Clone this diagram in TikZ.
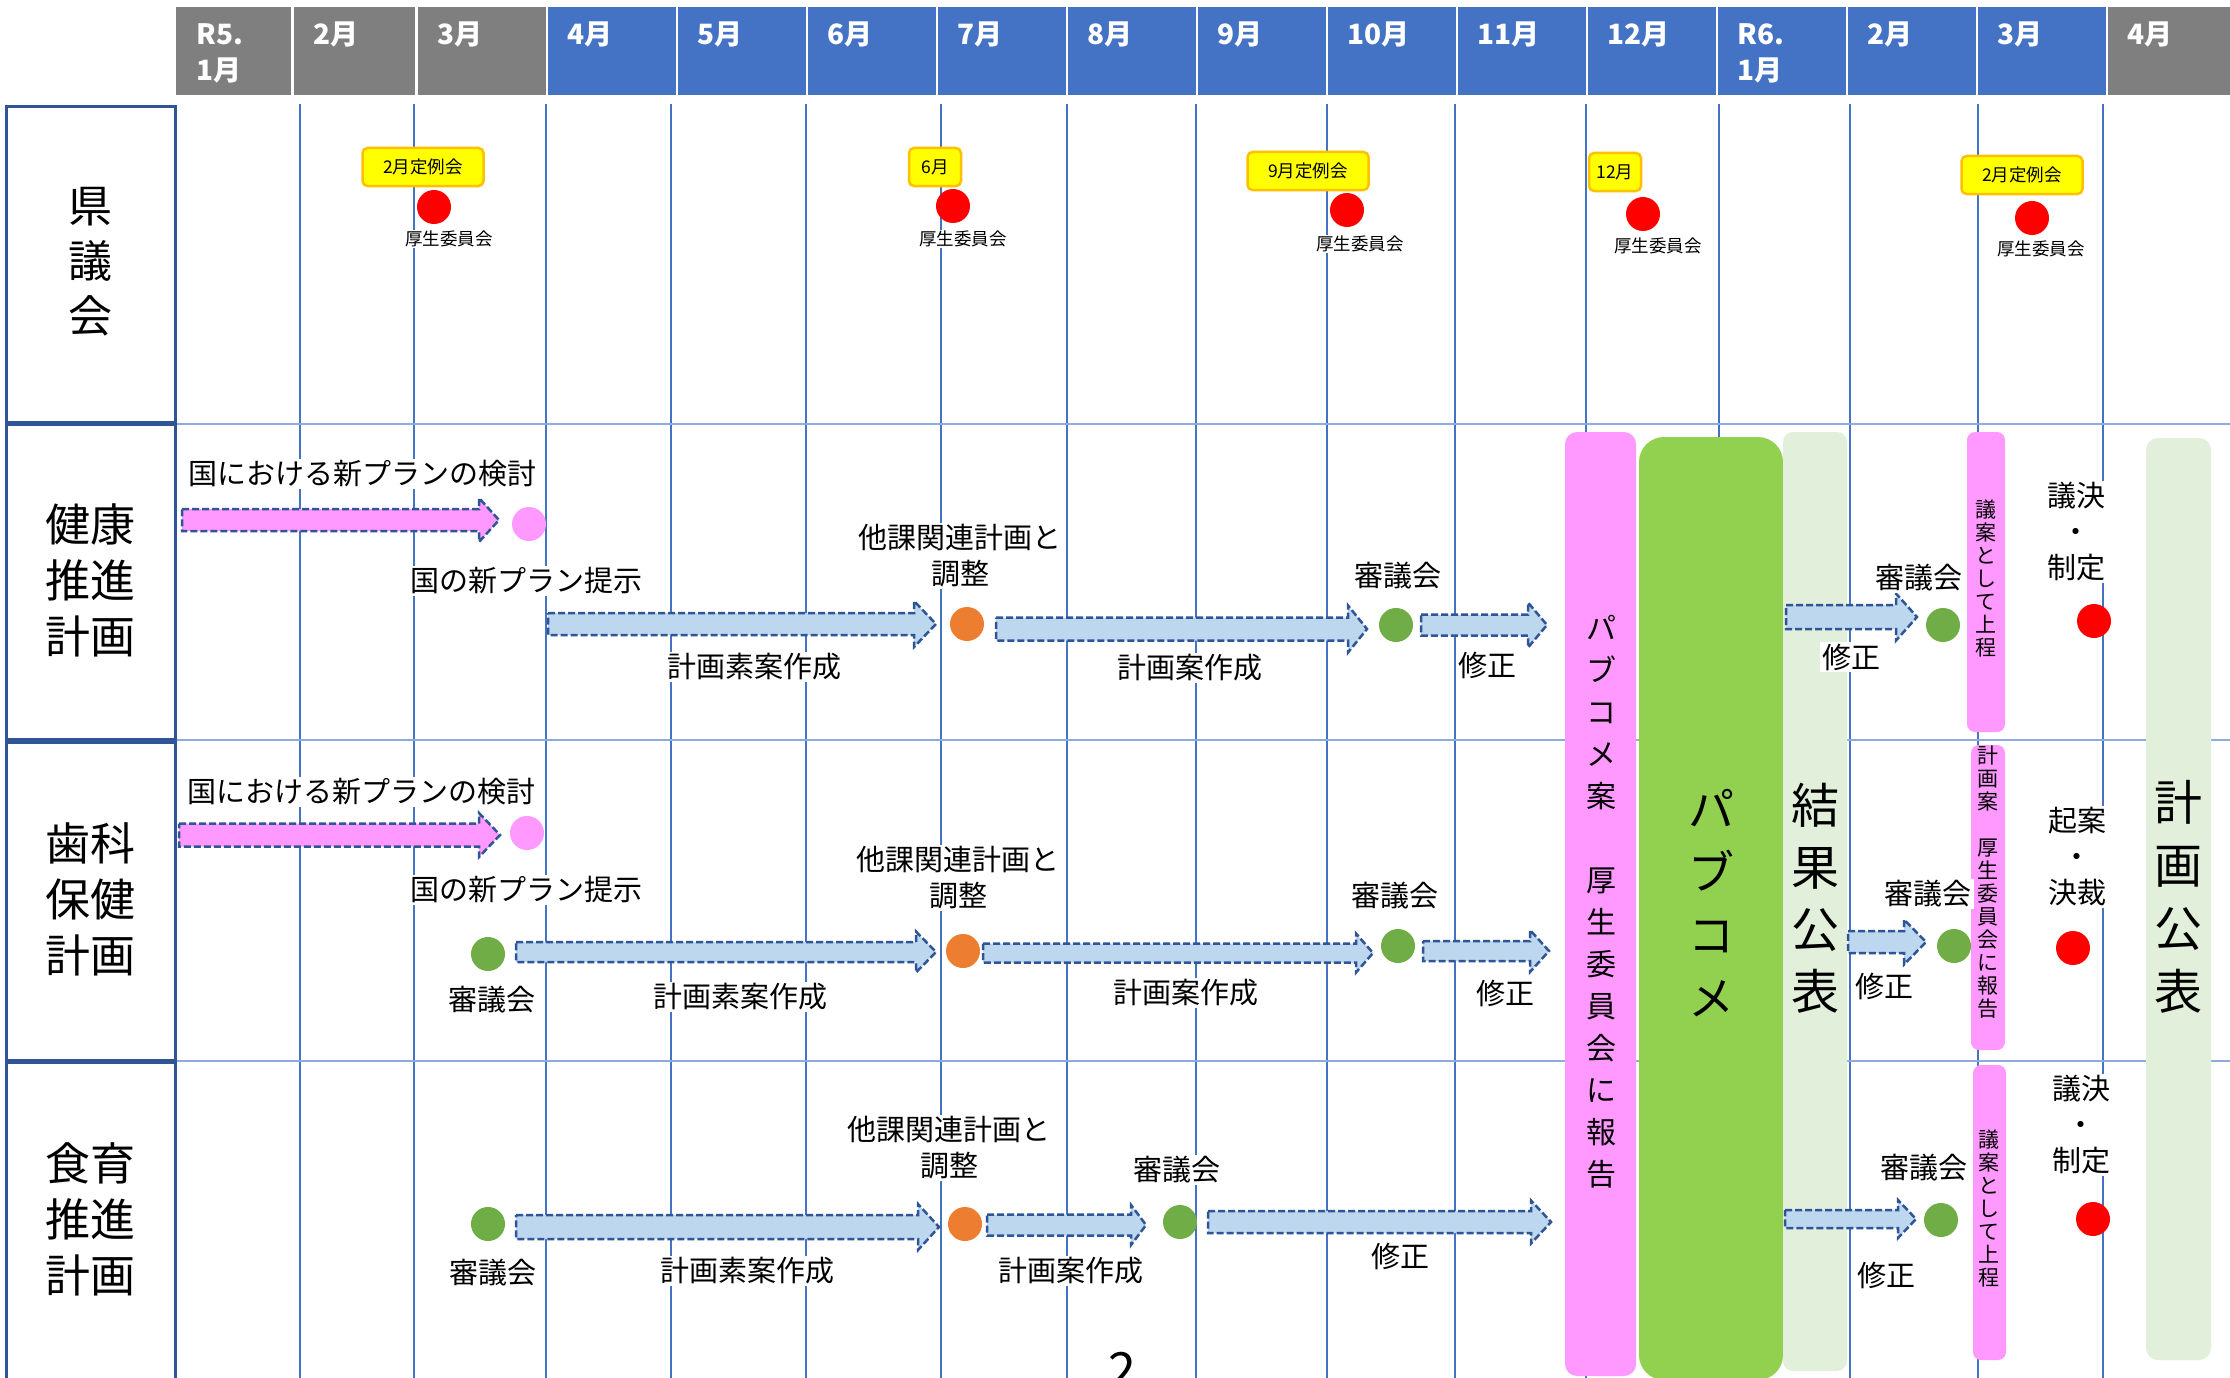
\documentclass[tikz,border=0pt]{standalone}
\usepackage{fontspec}
\setmainfont{Noto Sans CJK JP}
\definecolor{hdrgray}{HTML}{7F7F7F}
\definecolor{hdrblue}{HTML}{4472C4}
\definecolor{gridblue}{HTML}{4472C4}
\definecolor{seplight}{HTML}{8FAADC}
\definecolor{boxblue}{HTML}{2F5597}
\definecolor{arrowblue}{HTML}{BDD7EE}
\definecolor{pinkc}{HTML}{FF99FF}
\definecolor{greenbar}{HTML}{92D050}
\definecolor{lightgreen}{HTML}{E2EFDA}
\definecolor{dotgreen}{HTML}{70AD47}
\definecolor{dotorange}{HTML}{ED7D31}
\definecolor{yelc}{HTML}{FFFF00}
\definecolor{goldc}{HTML}{FFC000}
\newcommand\fsz[2]{\fontsize{#1pt}{#2pt}\selectfont}
\tikzset{
  vline/.style={draw=gridblue,line width=1.3pt},
  hsep/.style={draw=seplight,line width=2.5pt},
  hdrtext/.style={anchor=base west,text=white,font=\fsz{28}{36}\bfseries,inner sep=0pt},
  rowbox/.style={draw=boxblue,line width=3pt},
  rowlbl/.style={align=center,inner sep=0pt},
  lbl/.style={fill=white,inner sep=2pt,align=center,font=\fsz{29}{36}},
  smalllbl/.style={fill=white,inner sep=1pt,font=\fsz{17.5}{20}},
  ylabel/.style={draw=goldc,fill=yelc,line width=2.5pt,rounded corners=5pt,minimum height=38pt,inner sep=2pt,font=\fsz{17.5}{20}},
  dot/.style={circle,minimum size=34pt,inner sep=0pt},
  barrow/.style={draw=boxblue,line width=2.5pt,dash pattern=on 7pt off 3pt},
  vtext/.style={align=center,inner sep=0pt},
}
% x1 x2 yc shaft-half head-half head-length fill
\newcommand\blkarrow[7]{%
  \draw[barrow,fill=#7] (#1,#3-#4) -- (#2-#6,#3-#4) -- (#2-#6,#3-#5) -- (#2,#3)
    -- (#2-#6,#3+#5) -- (#2-#6,#3+#4) -- (#1,#3+#4) -- cycle;}
\begin{document}
\begin{tikzpicture}[x=1pt,y=-1pt]
\useasboundingbox (0,0) rectangle (2230,1378);
\clip (0,0) rectangle (2230,1378);
\fill[white] (0,0) rectangle (2230,1378);
% header
\foreach \a/\b/\c in {176/291/hdrgray,294/415/hdrgray,418/546/hdrgray,548/676/hdrblue,678/806/hdrblue,808/936/hdrblue,938/1066/hdrblue,1068/1196/hdrblue,1198/1326/hdrblue,1328/1456/hdrblue,1458/1586/hdrblue,1588/1716/hdrblue,1718/1846/hdrblue,1848/1976/hdrblue,1978/2106/hdrblue,2108/2232/hdrgray}
  \fill[\c] (\a,7) rectangle (\b,95);
\node[hdrtext] (h1a) at (196,45) {R5.};
\node[hdrtext] (h1b) at (196,81) {1月};
\node[hdrtext] (h2) at (313,45) {2月};
\node[hdrtext] (h3) at (437,45) {3月};
\node[hdrtext] (h4) at (567,45) {4月};
\node[hdrtext] (h5) at (697,45) {5月};
\node[hdrtext] (h6) at (827,45) {6月};
\node[hdrtext] (h7) at (957,45) {7月};
\node[hdrtext] (h8) at (1087,45) {8月};
\node[hdrtext] (h9) at (1217,45) {9月};
\node[hdrtext] (h10) at (1347,45) {10月};
\node[hdrtext] (h11) at (1477,45) {11月};
\node[hdrtext] (h12) at (1607,45) {12月};
\node[hdrtext] (h13a) at (1737,45) {R6.};
\node[hdrtext] (h13b) at (1737,81) {1月};
\node[hdrtext] (h14) at (1867,45) {2月};
\node[hdrtext] (h15) at (1997,45) {3月};
\node[hdrtext] (h16) at (2127,45) {4月};
% grid
\foreach \x in {300,414,546,671,806,941,1067,1196,1327,1455,1586,1719,1850,1978,2103}
  \draw[vline] (\x,104) -- (\x,1378);
\foreach \y in {424,740,1061}
  \draw[hsep] (176,\y) -- (2230,\y);
% row label boxes
\draw[rowbox] (6,107) rectangle (175,422);
\draw[rowbox] (6,424) rectangle (175,739);
\draw[rowbox] (6,742) rectangle (175,1060);
\draw[rowbox] (6,1062) rectangle (175,1382);
\node[rowlbl,font=\fsz{44}{55}] (r1) at (90,262) {県\\議\\会};
\node[rowlbl,font=\fsz{45}{56}] (r2) at (90,580) {健康\\推進\\計画};
\node[rowlbl,font=\fsz{45}{56}] (r3) at (90,899) {歯科\\保健\\計画};
\node[rowlbl,font=\fsz{45}{56}] (r4) at (90,1219) {食育\\推進\\計画};
% bars
\fill[pinkc,rounded corners=12pt] (1565,432) rectangle (1636,1376);
\fill[greenbar,rounded corners=25pt] (1639,437) rectangle (1783,1380);
\fill[lightgreen,rounded corners=10pt] (1783,432) rectangle (1847,1371);
\fill[pinkc,rounded corners=8pt] (1967,432) rectangle (2005,732);
\fill[pinkc,rounded corners=8pt] (1971,745) rectangle (2005,1050);
\fill[pinkc,rounded corners=8pt] (1973,1065) rectangle (2006,1360);
\fill[lightgreen,rounded corners=12pt] (2146,438) rectangle (2211,1360);
\node[vtext,font=\fsz{30}{42}] (pcr) at (1601,902) {パ\\ブ\\コ\\メ\\案\\[42pt]厚\\生\\委\\員\\会\\に\\報\\告};
\node[vtext,font=\fsz{46}{63}] (pc) at (1711,903) {パ\\ブ\\コ\\メ};
\node[vtext,font=\fsz{48}{62}] (kk) at (1815,898) {結\\果\\公\\表};
\node[vtext,font=\fsz{48}{63}] (kp) at (2178,897) {計\\画\\公\\表};
\node[vtext,font=\fsz{21}{23}] (gi2) at (1986,578) {議\\案\\と\\し\\て\\上\\程};
\node[vtext,font=\fsz{21}{23}] (kh3) at (1988,882) {計\\画\\案\\[23pt]厚\\生\\委\\員\\会\\に\\報\\告};
\node[vtext,font=\fsz{21}{23}] (gi4) at (1989,1208) {議\\案\\と\\し\\て\\上\\程};
% row 1
\node[ylabel,minimum width=121pt] (y1) at (423,167) {2月定例会};
\node[ylabel,minimum width=52pt] (y2) at (935,167) {6月};
\node[ylabel,minimum width=121pt] (y3) at (1308,171) {9月定例会};
\node[ylabel,minimum width=52pt] (y4) at (1615,172) {12月};
\node[ylabel,minimum width=121pt] (y5) at (2022,175) {2月定例会};
\node[dot,fill=red] (d11) at (434,207) {};
\node[dot,fill=red] (d12) at (953,206) {};
\node[dot,fill=red] (d13) at (1347,210) {};
\node[dot,fill=red] (d14) at (1643,214) {};
\node[dot,fill=red] (d15) at (2032,218) {};
\node[smalllbl] (k1) at (449,239) {厚生委員会};
\node[smalllbl] (k2) at (963,239) {厚生委員会};
\node[smalllbl] (k3) at (1360,244) {厚生委員会};
\node[smalllbl] (k4) at (1658,246) {厚生委員会};
\node[smalllbl] (k5) at (2041,249) {厚生委員会};
% row 2 arrows
\blkarrow{182}{499}{520}{11}{22}{20}{pinkc}
\blkarrow{548}{936}{624}{11}{23}{22}{arrowblue}
\blkarrow{996}{1367}{629}{11.5}{23.5}{19}{arrowblue}
\blkarrow{1421}{1547}{625}{10.5}{22.5}{19}{arrowblue}
\blkarrow{1786}{1917}{617}{12}{23.5}{21}{arrowblue}
% row 3 arrows
\blkarrow{179}{500}{835}{11.5}{22}{21}{pinkc}
\blkarrow{516}{936}{952}{10}{20.5}{20}{arrowblue}
\blkarrow{983}{1373}{953}{9.5}{19.5}{17}{arrowblue}
\blkarrow{1423}{1549}{951}{10}{21}{19}{arrowblue}
\blkarrow{1848}{1926}{942}{11}{22.5}{22}{arrowblue}
% row 4 arrows
\blkarrow{516}{939}{1227}{12}{23}{21}{arrowblue}
\blkarrow{987}{1146}{1225}{10.5}{20}{15}{arrowblue}
\blkarrow{1208}{1551}{1222}{11}{21.5}{20}{arrowblue}
\blkarrow{1785}{1916}{1219}{9}{19}{18}{arrowblue}
% row 2 dots
\node[dot,fill=pinkc] (d21) at (529,524) {};
\node[dot,fill=dotorange] (d22) at (967,624) {};
\node[dot,fill=dotgreen] (d23) at (1396,625) {};
\node[dot,fill=dotgreen] (d24) at (1943,625) {};
\node[dot,fill=red] (d25) at (2094,621) {};
% row 3 dots
\node[dot,fill=pinkc] (d31) at (527,833) {};
\node[dot,fill=dotgreen] (d32) at (488,954) {};
\node[dot,fill=dotorange] (d33) at (963,951) {};
\node[dot,fill=dotgreen] (d34) at (1398,946) {};
\node[dot,fill=dotgreen] (d35) at (1954,946) {};
\node[dot,fill=red] (d36) at (2073,948) {};
% row 4 dots
\node[dot,fill=dotgreen] (d41) at (488,1224) {};
\node[dot,fill=dotorange] (d42) at (965,1224) {};
\node[dot,fill=dotgreen] (d43) at (1180,1222) {};
\node[dot,fill=dotgreen] (d44) at (1941,1220) {};
\node[dot,fill=red] (d45) at (2093,1219) {};
% row 2 texts
\node[lbl] (t21) at (362,474) {国における新プランの検討};
\node[lbl] (t22) at (526,581) {国の新プラン提示};
\node[lbl] (t23) at (960,556) {他課関連計画と\\調整};
\node[lbl] (t24) at (754,667) {計画素案作成};
\node[lbl] (t25) at (1398,576) {審議会};
\node[lbl] (t26) at (1190,668) {計画案作成};
\node[lbl] (t27) at (1487,665) {修正};
\node[lbl] (t28) at (1919,578) {審議会};
\node[lbl] (t29) at (1851,657) {修正};
\node[lbl] (t2a) at (2076,532) {議決\\・\\制定};
% row 3 texts
\node[lbl] (t31) at (361,792) {国における新プランの検討};
\node[lbl] (t32) at (526,890) {国の新プラン提示};
\node[lbl] (t33) at (492,1000) {審議会};
\node[lbl] (t34) at (740,997) {計画素案作成};
\node[lbl] (t35) at (958,878) {他課関連計画と\\調整};
\node[lbl] (t36) at (1395,896) {審議会};
\node[lbl] (t37) at (1186,993) {計画案作成};
\node[lbl] (t38) at (1505,993) {修正};
\node[lbl] (t39) at (1928,894) {審議会};
\node[lbl] (t3a) at (1884,986) {修正};
\node[lbl] (t3b) at (2077,857) {起案\\・\\決裁};
% row 4 texts
\node[lbl] (t41) at (493,1273) {審議会};
\node[lbl] (t42) at (747,1271) {計画素案作成};
\node[lbl] (t43) at (949,1148) {他課関連計画と\\調整};
\node[lbl] (t44) at (1071,1271) {計画案作成};
\node[lbl] (t45) at (1177,1170) {審議会};
\node[lbl] (t46) at (1400,1256) {修正};
\node[lbl] (t47) at (1924,1168) {審議会};
\node[lbl] (t48) at (1886,1275) {修正};
\node[lbl] (t49) at (2081,1125) {議決\\・\\制定};
% page number (cut off)
\node[anchor=base,inner sep=0pt,font=\fsz{50}{55}] (pg) at (1122,1388) {2};
\end{tikzpicture}
\end{document}
